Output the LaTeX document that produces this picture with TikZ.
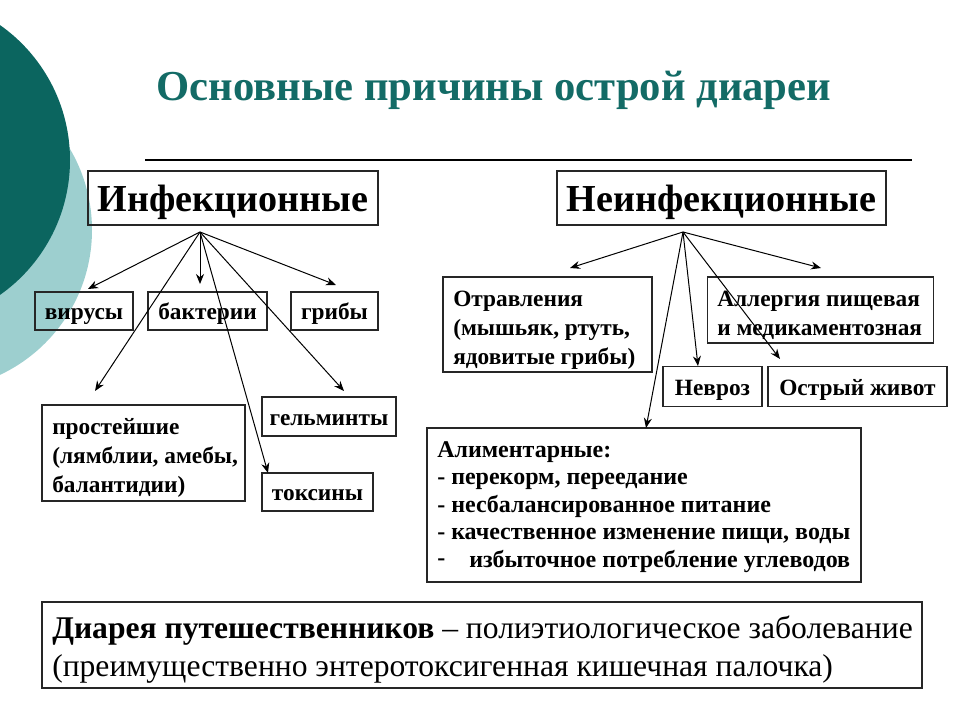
\documentclass[tikz,border=0pt]{standalone}
\usepackage{fontspec}
\setmainfont{Liberation Serif}
\usetikzlibrary{arrows.meta}
\definecolor{darkteal}{HTML}{0B655F}
\definecolor{lightteal}{HTML}{9DCFCF}
\definecolor{titleteal}{HTML}{136B66}
\newcommand{\txtlines}[1]{\begin{tabular}[t]{@{}l@{}}#1\end{tabular}}
\tikzset{
  frame/.style={draw=black!85, line width=0.9pt, inner sep=0pt},
  box/.style={frame, align=center},
  txt/.style={inner sep=0pt, anchor=base west},
  arr/.style={line width=0.75pt, -{Stealth[length=7.5pt,width=6pt]}},
  small/.style={font=\fontsize{17.5}{22}\selectfont\bfseries, text height=16pt, text depth=3pt},
  smallml/.style={font=\fontsize{17.5}{22}\selectfont\bfseries},
  big/.style={font=\fontsize{28.6}{32}\selectfont\bfseries, text height=25pt, text depth=4pt},
}
\begin{document}
\begin{tikzpicture}[x=0.75pt,y=-0.75pt]
\useasboundingbox (0,0) rectangle (960,720);
% decorative circles
\begin{scope}
\clip (0,0) rectangle (960,720);
\fill[lightteal] (-68,230) circle[radius=160];
\fill[darkteal] (-95,160) circle[radius=165];
\end{scope}
% title
\node[font=\fontsize{32}{36}\selectfont\bfseries, text=titleteal] (title) at (494,90) {Основные причины острой диареи};
\draw[line width=1.3pt] (145,160) -- (912,160);
% top boxes
\node[box,big,minimum width=217.5pt,minimum height=40.5pt] (inf) at (233,198) {Инфекционные};
\node[box,big,minimum width=246.75pt,minimum height=40.5pt] (ninf) at (721.5,198) {Неинфекционные};
% infectious children
\node[box,small,minimum width=73.5pt,minimum height=28.5pt] (vir) at (84,311) {вирусы};
\node[box,small,minimum width=89.25pt,minimum height=28.5pt] (bak) at (207.5,311) {бактерии};
\node[box,small,minimum width=65.25pt,minimum height=28.5pt] (grib) at (334.5,311) {грибы};
\node[frame,minimum width=152.25pt,minimum height=72pt] (prost) at (143.5,453) {};
\node[txt,smallml] (prosttext) at (52,434) {\txtlines{простейшие\\(лямблии, амебы,\\балантидии)}};
\node[box,small,minimum width=100.5pt,minimum height=29.25pt] (gelm) at (329,416.5) {гельминты};
\node[box,small,minimum width=83.25pt,minimum height=28.5pt] (toks) at (317.5,492) {токсины};
% non-infectious children
\node[frame,minimum width=156.75pt,minimum height=71.25pt] (otr) at (547.5,324.5) {};
\node[txt,smallml] (otrtext) at (453,306) {\txtlines{Отравления\\(мышьяк, ртуть,\\ядовитые грибы)}};
\node[frame,minimum width=169.5pt,minimum height=49.5pt] (all) at (820.5,310) {};
\node[txt,smallml] (alltext) at (717,306) {\txtlines{Аллергия пищевая\\и медикаментозная}};
\node[box,small,minimum width=74.25pt,minimum height=29.5pt] (nevr) at (712.5,386.5) {Невроз};
\node[box,small,minimum width=134.25pt,minimum height=29.5pt] (ostr) at (857.5,386.5) {Острый живот};
\node[frame,minimum width=325.5pt,minimum height=115.5pt] (alim) at (644,505) {};
\node[txt,font=\fontsize{18}{20.7}\selectfont\bfseries] (alimtext) at (437,457) {\txtlines{Алиментарные:\\- перекорм, переедание\\- несбалансированное питание\\- качественное изменение пищи, воды\\\raisebox{0.15ex}{-}\hspace{1em}избыточное потребление углеводов}};
% bottom box
\node[frame,minimum width=660pt,minimum height=64.5pt] (diar) at (482,645) {};
\node[txt,font=\fontsize{23.7}{29}\selectfont] (diartext) at (52,638) {\txtlines{\textbf{Диарея путешественников} – полиэтиологическое заболевание\\(преимущественно энтеротоксигенная кишечная палочка)}};
% arrow sources and tips
\coordinate (isrc) at (200,232);
\coordinate (nsrc) at (683,232);
\coordinate (tvir) at (88,289);
\coordinate (tbak) at (200,284);
\coordinate (tgrib) at (336,285);
\coordinate (tprost) at (95,391);
\coordinate (tgelm) at (344,391);
\coordinate (ttoks) at (268,473);
\coordinate (totr) at (570,268);
\coordinate (tall) at (821,268);
\coordinate (tnevr) at (698,366);
\coordinate (tostr) at (780,359);
\coordinate (talim) at (646,428);
\foreach \t in {tvir,tbak,tgrib,tprost,tgelm,ttoks} \draw[arr] (isrc) -- (\t);
\foreach \t in {totr,tall,tnevr,tostr,talim} \draw[arr] (nsrc) -- (\t);
\end{tikzpicture}
\end{document}
